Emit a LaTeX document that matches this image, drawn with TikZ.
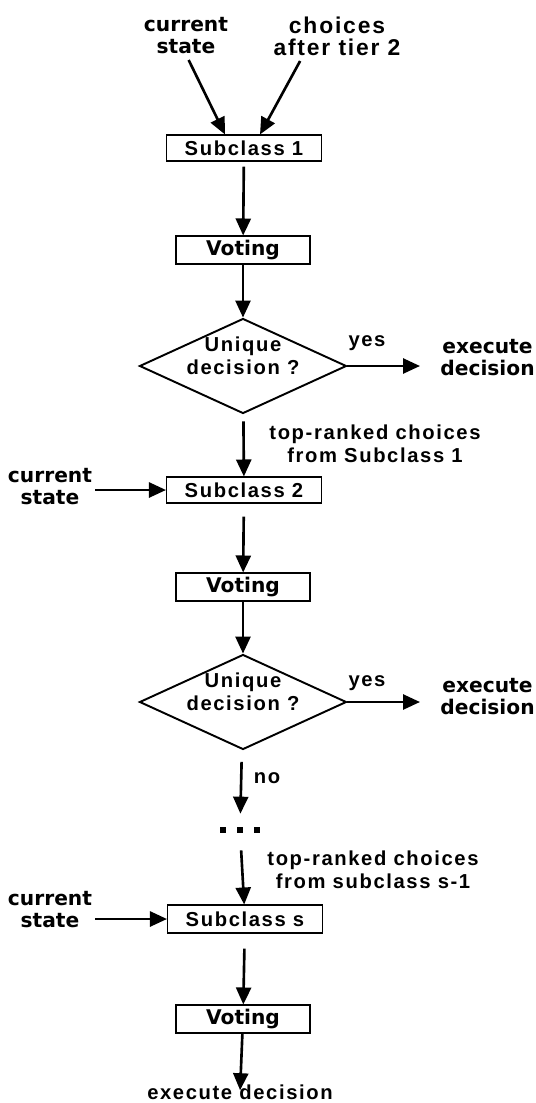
\documentclass[tikz,border=0pt]{standalone}
\usepackage{fontspec}
\setmainfont{Liberation Sans}[LetterSpace=8]
\newfontfamily\pixfont{DejaVu Sans}
\usetikzlibrary{shapes.geometric,arrows.meta,positioning}

\tikzset{
  box/.style={draw, line width=0.6pt, minimum width=3.1cm, minimum height=0.52cm, inner sep=0pt},
  votebox/.style={box, minimum width=2.68cm, minimum height=0.56cm, font=\pixfont\bfseries\fontsize{11.5}{13}\selectfont},
  choice/.style={draw, diamond, line width=1.1pt, minimum width=4.14cm, minimum height=1.9cm, inner sep=0pt},
  txt/.style={align=center, inner sep=0pt},
  pix/.style={txt, font=\pixfont\bfseries\fontsize{11.5}{12.5}\selectfont},
  flow/.style={line width=1.5pt, -{Triangle[length=0.34cm, width=0.3cm]}},
}

\begin{document}
\begin{tikzpicture}[x=0.02cm, y=-0.02cm, font=\bfseries\fontsize{11.5}{13}\selectfont]
  \useasboundingbox (0,0) rectangle (535,1103);

  % inputs of the first subclass
  \node[pix] (state1) at (186,36) {current\\state};
  \node[txt, font=\bfseries\fontsize{13}{12.5}\selectfont] (tier) at (337,36) {choices\\after tier 2};
  \node[box] (sub1) at (244,148) {Subclass 1};
  \node[votebox] (vote1) at (243,250) {Voting};
  \node[choice] (dec1) at (243,366) {};
  \node[txt] (q1) at (243,356) {Unique\\decision ?};
  \node[txt] (yes1) at (367,343) {yes};
  \node[pix, anchor=west] (exec1) at (440,358) {execute\\decision};
  \node[txt] (top1) at (375,444) {top-ranked choices\\from Subclass 1};

  % second subclass
  \node[pix] (state2) at (50,487) {current\\state};
  \node[box] (sub2) at (244,490) {Subclass 2};
  \node[votebox] (vote2) at (243,587) {Voting};
  \node[choice] (dec2) at (243,702) {};
  \node[txt] (q2) at (243,692) {Unique\\decision ?};
  \node[txt] (yes2) at (367,683) {yes};
  \node[pix, anchor=west] (exec2) at (440,697) {execute\\decision};
  \node[txt] (no) at (267,778) {no};

  % dots
  \node[minimum width=1cm, minimum height=0.64cm, inner sep=0pt] (dots) at (240,830) {};
  \foreach \dx in {-17,0,17}
    \fill (237+\dx,827) rectangle ++(6,6);

  % last subclass
  \node[txt] (top2) at (373,870) {top-ranked choices\\from subclass s-1};
  \node[pix] (state3) at (50,910) {current\\state};
  \node[box, minimum height=0.56cm] (subs) at (245,919) {Subclass s};
  \node[votebox] (vote3) at (243,1019) {Voting};
  \node[txt] (final) at (240,1092) {execute decision};

  % connectors
  \draw[flow, shorten <=0.12cm] (state1.south) -- ([xshift=-0.38cm]sub1.north);
  \draw[flow, shorten <=0.12cm] ([xshift=-0.68cm]tier.south) -- ([xshift=0.32cm]sub1.north);
  \draw[flow, shorten <=0.1cm] (sub1) -- (vote1);
  \draw[flow] (vote1) -- (dec1);
  \draw[flow, shorten >=0.4cm] (dec1.east) -- (exec1.west |- dec1.east);
  \draw[flow, shorten <=0.14cm] (dec1) -- (sub2);
  \draw[flow, shorten <=0.06cm] (state2.east |- sub2.west) -- (sub2.west);
  \draw[flow, shorten <=0.26cm] (sub2) -- (vote2);
  \draw[flow] (vote2) -- (dec2);
  \draw[flow, shorten >=0.4cm] (dec2.east) -- (exec2.west |- dec2.east);
  \draw[flow, shorten <=0.24cm] (dec2) -- (dots);
  \draw[flow, shorten <=0.08cm] (dots) -- (subs);
  \draw[flow, shorten <=0.06cm] (state3.east |- subs.west) -- (subs.west);
  \draw[flow, shorten <=0.3cm] (subs) -- (vote3);
  \draw[flow, shorten >=-0.12cm] (vote3) -- (final);

\end{tikzpicture}
\end{document}
